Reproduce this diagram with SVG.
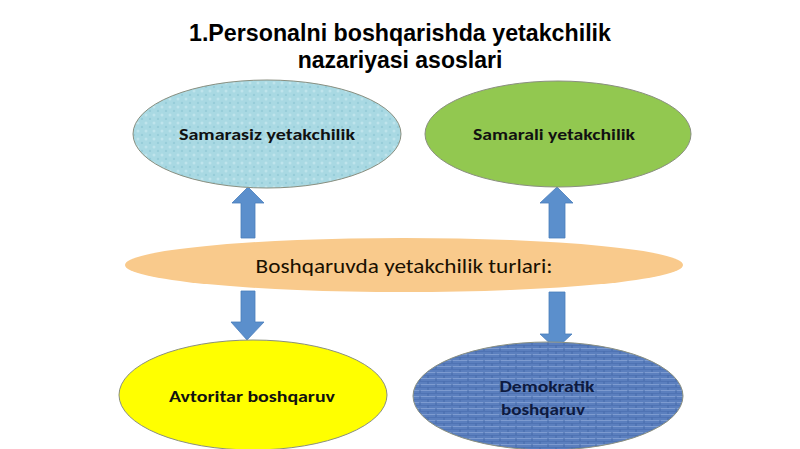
<svg xmlns="http://www.w3.org/2000/svg" width="800" height="449" viewBox="0 0 800 449">
<style>
.title{font-family:"Liberation Sans",Arial,sans-serif;font-weight:bold;font-size:23px;fill:#000;text-anchor:middle}
.lbl{font-family:"Carlito","Liberation Sans",Arial,sans-serif;font-weight:bold;font-size:16px;fill:#111;text-anchor:middle}
.mid{font-family:"Carlito","Liberation Sans",Arial,sans-serif;font-size:20px;fill:#1a1000;text-anchor:middle}
.ol{stroke:#8a8f80;stroke-width:1}
.arrow{fill:#5b8fcc;stroke:#4a7dbb;stroke-width:0.8}
</style>
<defs>
<pattern id="dots" width="8" height="8" patternUnits="userSpaceOnUse">
<rect width="8" height="8" fill="#a9d9e3"/>
<circle cx="2" cy="3" r="1.5" fill="#bfe4ec"/>
<circle cx="6" cy="7" r="1.2" fill="#97cdd9"/>
</pattern>
<pattern id="bricks" width="16" height="6" patternUnits="userSpaceOnUse">
<rect width="16" height="6" fill="#5b7fbe"/>
<line x1="0" y1="0.5" x2="16" y2="0.5" stroke="#7d9bd0" stroke-width="1"/>
<line x1="4" y1="0" x2="4" y2="3" stroke="#3f63a4" stroke-width="0.8"/>
<line x1="12" y1="3" x2="12" y2="6" stroke="#3f63a4" stroke-width="0.8"/>
<line x1="0" y1="3.5" x2="16" y2="3.5" stroke="#4a6eb0" stroke-width="0.7"/>
</pattern>
</defs>
<rect width="800" height="449" fill="#ffffff"/>
<g id="title">
<text class="title" x="400" y="41" textLength="422" lengthAdjust="spacingAndGlyphs">1.Personalni boshqarishda yetakchilik</text>
<text class="title" x="400" y="68">nazariyasi asoslari</text>
</g>
<g id="connectors">
<polygon class="arrow" points="241,238 241,203 232,203 248,187 264,203 255,203 255,238"/>
<polygon class="arrow" points="241,291 241,322 231,322 247,340 264,322 255,322 255,291"/>
<polygon class="arrow" points="549,238 549,203 540,203 557,187 573,203 565,203 565,238"/>
<polygon class="arrow" points="549,292 549,334 540,334 556,349 572,334 565,334 565,292"/>
</g>
<g id="n-samarasiz">
<ellipse class="ol" cx="267" cy="134" rx="134" ry="54" fill="url(#dots)"/>
<text class="lbl" x="267" y="140" textLength="176" lengthAdjust="spacingAndGlyphs">Samarasiz yetakchilik</text>
</g>
<g id="n-samarali">
<ellipse class="ol" cx="558" cy="134" rx="133" ry="53" fill="#92c850"/>
<text class="lbl" x="554" y="140" textLength="162" lengthAdjust="spacingAndGlyphs">Samarali yetakchilik</text>
</g>
<g id="n-turlari">
<ellipse cx="404" cy="265" rx="279" ry="27" fill="#f9ca8c"/>
<text class="mid" x="404" y="273" textLength="297" lengthAdjust="spacingAndGlyphs">Boshqaruvda yetakchilik turlari:</text>
</g>
<g id="n-avtoritar">
<ellipse class="ol" cx="253" cy="395" rx="134" ry="55" fill="#ffff00"/>
<text class="lbl" x="252" y="402" textLength="166" lengthAdjust="spacingAndGlyphs">Avtoritar boshqaruv</text>
</g>
<g id="n-demokratik">
<ellipse class="ol" cx="548" cy="396" rx="135" ry="54" fill="url(#bricks)"/>
<text class="lbl" x="547" y="392" style="fill:#0d1a40" textLength="95" lengthAdjust="spacingAndGlyphs">Demokratik</text>
<text class="lbl" x="543" y="415" style="fill:#0d1a40" textLength="84" lengthAdjust="spacingAndGlyphs">boshqaruv</text>
</g>
</svg>
